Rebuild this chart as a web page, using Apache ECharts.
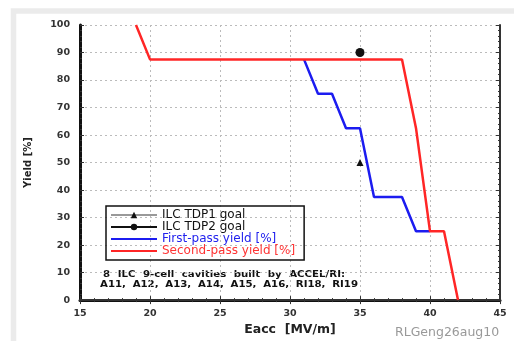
<!DOCTYPE html>
<html><head><meta charset="utf-8">
<script src="https://cdn.jsdelivr.net/npm/echarts@6/dist/echarts.min.js"></script>
<style>html,body{margin:0;padding:0;background:#fff}#c{width:514px;height:341px}</style>
</head><body><div id="c"></div>
<script>
const firstPass = [[31,87.5],[32,75],[33,75],[34,62.5],[35,62.5],[36,37.5],[38,37.5],[39,25],[40,25]];
const secondPass = [[19,100],[20,87.5],[38,87.5],[39,62.5],[40,25],[41,25],[42,0]];
const tdp1Goal = [[35,50]];
const tdp2Goal = [[35,90]];
const seriesNames = ['ILC TDP1 goal','ILC TDP2 goal','First-pass yield [%]','Second-pass yield [%]'];
const noteLines = ['8 ILC 9-cell cavities built by ACCEL/RI:','A11, A12, A13, A14, A15, A16, RI18, RI19'];
const creditText = 'RLGeng26aug10';

const chart = echarts.init(document.getElementById('c'));
const fontF = 'DejaVu Sans, Liberation Sans, sans-serif';
const axisTick = {inside:true,length:4,lineStyle:{color:'#333',width:1}};
const minorTick = {show:true,splitNumber:5,length:2,lineStyle:{color:'#333'}};

// justified note text (layout only)
const noteFont = 'bold 8.5px "DejaVu Sans"';
const noteScale = 1.2;
const noteSpans = [[103,345,275],[100,358,285]];
const cv = document.createElement('canvas').getContext('2d');
cv.font = noteFont;
const noteGraphics = [];
noteLines.forEach((line, li) => {
  const words = line.split(' ');
  const ws = words.map(w => cv.measureText(w).width * noteScale);
  const total = ws.reduce((a,b)=>a+b,0);
  const [x0,x1,yc] = noteSpans[li];
  const gap = (x1 - x0 - total) / (words.length - 1);
  let x = x0;
  words.forEach((w,i) => {
    noteGraphics.push({type:'text',x:x,y:yc,scaleX:noteScale,
      style:{text:w,x:0,y:0,font:noteFont,fill:'#111',verticalAlign:'middle',align:'left'}});
    x += ws[i] + gap;
  });
});

chart.setOption({
  animation:false,
  grid:{left:80,right:14,top:25,bottom:36},
  xAxis:[{
    type:'value',min:15,max:45,interval:5,
    name:'Eacc  [MV/m]',nameLocation:'middle',nameGap:21,
    nameTextStyle:{fontFamily:fontF,fontSize:12.5,fontWeight:'bold',color:'#222'},
    axisLine:{onZero:false,lineStyle:{color:'#111',width:3}},
    axisTick:axisTick,minorTick:minorTick,
    axisLabel:{margin:8,fontFamily:fontF,fontSize:9.5,fontWeight:'bold',color:'#333'},
    splitLine:{show:true,lineStyle:{color:'#bbb',type:[2,3],width:1}}
  },{
    type:'value',min:15,max:45,interval:5,position:'top',
    axisLine:{lineStyle:{color:'#333',width:2}},
    axisTick:axisTick,minorTick:minorTick,
    axisLabel:{show:false},splitLine:{show:false}
  }],
  yAxis:[{
    type:'value',min:0,max:100,interval:10,
    name:'Yield [%]',nameLocation:'middle',nameGap:47,
    nameTextStyle:{fontFamily:fontF,fontSize:10,fontWeight:'bold',color:'#222'},
    axisLine:{show:true,onZero:false,lineStyle:{color:'#111',width:3}},
    axisTick:axisTick,minorTick:minorTick,
    axisLabel:{margin:10,fontFamily:fontF,fontSize:9.5,fontWeight:'bold',color:'#333'},
    splitLine:{show:true,lineStyle:{color:'#bbb',type:[2,3],width:1}}
  },{
    type:'value',min:0,max:100,interval:10,position:'right',
    axisLine:{show:true,lineStyle:{color:'#333',width:2}},
    axisTick:axisTick,minorTick:minorTick,
    axisLabel:{show:false},splitLine:{show:false}
  }],
  legend:{
    orient:'vertical',left:106,top:206,itemWidth:46,itemHeight:8,itemGap:0,
    padding:[3,9,3,4],borderColor:'#111',borderWidth:1.5,
    textStyle:{fontFamily:fontF,fontSize:12,lineHeight:11.4},
    data:[
      {name:seriesNames[0],textStyle:{color:'#111'}},
      {name:seriesNames[1],textStyle:{color:'#111'}},
      {name:seriesNames[2],textStyle:{color:'#2222ee'},itemStyle:{opacity:0}},
      {name:seriesNames[3],textStyle:{color:'#ff3333'},itemStyle:{opacity:0}}
    ]
  },
  series:[
    {name:seriesNames[2],type:'line',data:firstPass,symbol:'none',
     lineStyle:{color:'#1c1cf0',width:2.5},itemStyle:{color:'#1c1cf0'},z:3},
    {name:seriesNames[3],type:'line',data:secondPass,symbol:'none',
     lineStyle:{color:'#ff2626',width:2.5},itemStyle:{color:'#ff2626'},z:4},
    {name:seriesNames[0],type:'line',data:tdp1Goal,symbol:'triangle',symbolSize:7,
     lineStyle:{color:'#999',width:3},itemStyle:{color:'#111'},z:5},
    {name:seriesNames[1],type:'line',data:tdp2Goal,symbol:'circle',symbolSize:9,
     lineStyle:{color:'#111',width:3},itemStyle:{color:'#111'},z:5}
  ],
  graphic:[
    {type:'rect',z:-10,shape:{x:13.5,y:11,width:600,height:500},
     style:{fill:'none',stroke:'#ebebeb',lineWidth:5.5},silent:true},
    ...noteGraphics,
    {type:'text',left:395,top:326,style:{text:creditText,fontFamily:fontF,fontSize:12.5,fill:'#999'}}
  ]
});
</script></body></html>
